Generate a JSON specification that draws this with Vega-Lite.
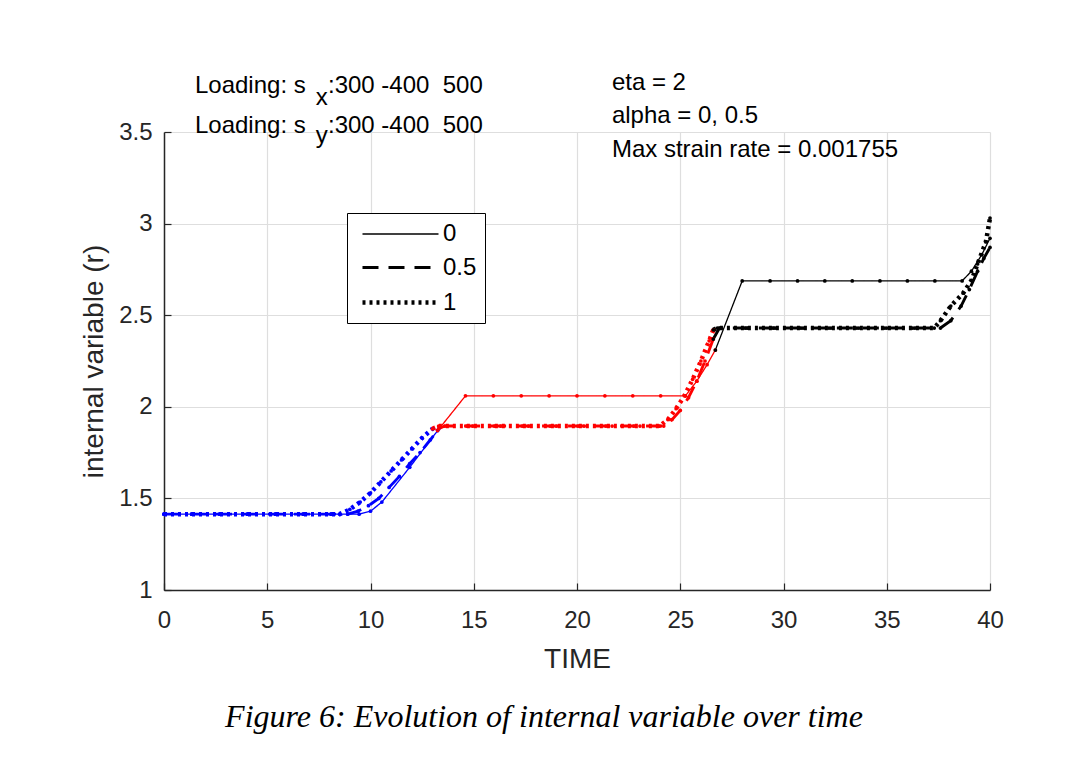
{
  "$schema": "https://vega.github.io/schema/vega-lite/v6.json",
  "width": 826,
  "height": 458,
  "autosize": "none",
  "padding": {"left": 164, "top": 132, "right": 84, "bottom": 181},
  "background": "white",
  "title": {
    "text": "Figure 6: Evolution of internal variable over time",
    "orient": "bottom",
    "anchor": "middle",
    "dx": -33,
    "offset": 29,
    "font": "Liberation Serif",
    "fontStyle": "italic",
    "fontWeight": "normal",
    "fontSize": 32,
    "color": "black"
  },
  "config": {
    "view": {"stroke": null},
    "axis": {
      "labelFont": "Liberation Sans",
      "labelFontSize": 24,
      "labelColor": "#262626",
      "titleFont": "Liberation Sans",
      "titleFontSize": 28,
      "titleFontWeight": "normal",
      "titleColor": "#262626",
      "domainColor": "#262626",
      "domainWidth": 1.5,
      "tickColor": "#262626",
      "tickSize": -7,
      "tickWidth": 1.2,
      "gridColor": "#dedede",
      "gridWidth": 1.2,
      "labelFlush": false
    },
    "legend": {
      "symbolStrokeColor": "black",
      "labelFont": "Liberation Sans",
      "labelFontSize": 24,
      "labelColor": "black"
    }
  },
  "layer": [
    {
      "data": {
        "values": [
          {"t": 0, "r": 1.414, "s": "0", "p": 1}, {"t": 1.35, "r": 1.414, "s": "0", "p": 1}, {"t": 2.7, "r": 1.414, "s": "0", "p": 1}, {"t": 4.05, "r": 1.414, "s": "0", "p": 1}, {"t": 5.4, "r": 1.414, "s": "0", "p": 1}, {"t": 6.75, "r": 1.414, "s": "0", "p": 1}, {"t": 8.1, "r": 1.414, "s": "0", "p": 1}, {"t": 9.45, "r": 1.414, "s": "0", "p": 1}, {"t": 10.0, "r": 1.43, "s": "0", "p": 1}, {"t": 10.55, "r": 1.48, "s": "0", "p": 1}, {"t": 11.9, "r": 1.67, "s": "0", "p": 1}, {"t": 13.25, "r": 1.87, "s": "0", "p": 1},
          {"t": 13.25, "r": 1.87, "s": "0", "p": 2}, {"t": 14.6, "r": 2.06, "s": "0", "p": 2}, {"t": 15.95, "r": 2.06, "s": "0", "p": 2}, {"t": 17.3, "r": 2.06, "s": "0", "p": 2}, {"t": 18.65, "r": 2.06, "s": "0", "p": 2}, {"t": 20.0, "r": 2.06, "s": "0", "p": 2}, {"t": 21.35, "r": 2.06, "s": "0", "p": 2}, {"t": 22.7, "r": 2.06, "s": "0", "p": 2}, {"t": 24.05, "r": 2.06, "s": "0", "p": 2}, {"t": 25.25, "r": 2.06, "s": "0", "p": 2}, {"t": 25.8, "r": 2.14, "s": "0", "p": 2}, {"t": 26.3, "r": 2.23, "s": "0", "p": 2}, {"t": 26.7, "r": 2.31, "s": "0", "p": 2},
          {"t": 26.7, "r": 2.31, "s": "0", "p": 3}, {"t": 28.0, "r": 2.687, "s": "0", "p": 3}, {"t": 29.35, "r": 2.687, "s": "0", "p": 3}, {"t": 30.68, "r": 2.687, "s": "0", "p": 3}, {"t": 32.0, "r": 2.687, "s": "0", "p": 3}, {"t": 33.33, "r": 2.687, "s": "0", "p": 3}, {"t": 34.67, "r": 2.687, "s": "0", "p": 3}, {"t": 36.0, "r": 2.687, "s": "0", "p": 3}, {"t": 37.33, "r": 2.687, "s": "0", "p": 3}, {"t": 38.65, "r": 2.687, "s": "0", "p": 3}, {"t": 39.1, "r": 2.74, "s": "0", "p": 3}, {"t": 39.6, "r": 2.83, "s": "0", "p": 3}, {"t": 40.0, "r": 2.92, "s": "0", "p": 3},

          {"t": 0, "r": 1.414, "s": "0.5", "p": 1}, {"t": 1.35, "r": 1.414, "s": "0.5", "p": 1}, {"t": 2.7, "r": 1.414, "s": "0.5", "p": 1}, {"t": 4.05, "r": 1.414, "s": "0.5", "p": 1}, {"t": 5.4, "r": 1.414, "s": "0.5", "p": 1}, {"t": 6.75, "r": 1.414, "s": "0.5", "p": 1}, {"t": 8.1, "r": 1.414, "s": "0.5", "p": 1}, {"t": 8.9, "r": 1.414, "s": "0.5", "p": 1}, {"t": 9.4, "r": 1.43, "s": "0.5", "p": 1}, {"t": 9.9, "r": 1.46, "s": "0.5", "p": 1}, {"t": 10.4, "r": 1.5, "s": "0.5", "p": 1}, {"t": 10.9, "r": 1.56, "s": "0.5", "p": 1}, {"t": 11.4, "r": 1.62, "s": "0.5", "p": 1}, {"t": 11.9, "r": 1.69, "s": "0.5", "p": 1}, {"t": 12.4, "r": 1.75, "s": "0.5", "p": 1}, {"t": 12.9, "r": 1.82, "s": "0.5", "p": 1}, {"t": 13.3, "r": 1.88, "s": "0.5", "p": 1},
          {"t": 13.3, "r": 1.88, "s": "0.5", "p": 2}, {"t": 13.6, "r": 1.895, "s": "0.5", "p": 2}, {"t": 14.95, "r": 1.895, "s": "0.5", "p": 2}, {"t": 16.3, "r": 1.895, "s": "0.5", "p": 2}, {"t": 17.65, "r": 1.895, "s": "0.5", "p": 2}, {"t": 19.0, "r": 1.895, "s": "0.5", "p": 2}, {"t": 20.35, "r": 1.895, "s": "0.5", "p": 2}, {"t": 21.7, "r": 1.895, "s": "0.5", "p": 2}, {"t": 23.05, "r": 1.895, "s": "0.5", "p": 2}, {"t": 24.2, "r": 1.895, "s": "0.5", "p": 2}, {"t": 24.6, "r": 1.93, "s": "0.5", "p": 2}, {"t": 25.0, "r": 1.98, "s": "0.5", "p": 2}, {"t": 25.4, "r": 2.05, "s": "0.5", "p": 2}, {"t": 25.8, "r": 2.14, "s": "0.5", "p": 2}, {"t": 26.2, "r": 2.25, "s": "0.5", "p": 2}, {"t": 26.6, "r": 2.37, "s": "0.5", "p": 2},
          {"t": 26.6, "r": 2.37, "s": "0.5", "p": 3}, {"t": 26.9, "r": 2.43, "s": "0.5", "p": 3}, {"t": 28.25, "r": 2.43, "s": "0.5", "p": 3}, {"t": 29.6, "r": 2.43, "s": "0.5", "p": 3}, {"t": 30.95, "r": 2.43, "s": "0.5", "p": 3}, {"t": 32.3, "r": 2.43, "s": "0.5", "p": 3}, {"t": 33.65, "r": 2.43, "s": "0.5", "p": 3}, {"t": 35.0, "r": 2.43, "s": "0.5", "p": 3}, {"t": 36.35, "r": 2.43, "s": "0.5", "p": 3}, {"t": 37.6, "r": 2.43, "s": "0.5", "p": 3}, {"t": 38.1, "r": 2.47, "s": "0.5", "p": 3}, {"t": 38.6, "r": 2.55, "s": "0.5", "p": 3}, {"t": 39.0, "r": 2.64, "s": "0.5", "p": 3}, {"t": 39.4, "r": 2.74, "s": "0.5", "p": 3}, {"t": 39.7, "r": 2.81, "s": "0.5", "p": 3}, {"t": 40.0, "r": 2.87, "s": "0.5", "p": 3},

          {"t": 0, "r": 1.414, "s": "1", "p": 1}, {"t": 1.35, "r": 1.414, "s": "1", "p": 1}, {"t": 2.7, "r": 1.414, "s": "1", "p": 1}, {"t": 4.05, "r": 1.414, "s": "1", "p": 1}, {"t": 5.4, "r": 1.414, "s": "1", "p": 1}, {"t": 6.75, "r": 1.414, "s": "1", "p": 1}, {"t": 8.1, "r": 1.414, "s": "1", "p": 1}, {"t": 8.5, "r": 1.414, "s": "1", "p": 1}, {"t": 9.0, "r": 1.44, "s": "1", "p": 1}, {"t": 9.5, "r": 1.48, "s": "1", "p": 1}, {"t": 10.0, "r": 1.53, "s": "1", "p": 1}, {"t": 10.5, "r": 1.59, "s": "1", "p": 1}, {"t": 11.0, "r": 1.65, "s": "1", "p": 1}, {"t": 11.5, "r": 1.71, "s": "1", "p": 1}, {"t": 12.0, "r": 1.77, "s": "1", "p": 1}, {"t": 12.5, "r": 1.83, "s": "1", "p": 1}, {"t": 13.0, "r": 1.88, "s": "1", "p": 1},
          {"t": 13.0, "r": 1.88, "s": "1", "p": 2}, {"t": 13.3, "r": 1.895, "s": "1", "p": 2}, {"t": 14.65, "r": 1.895, "s": "1", "p": 2}, {"t": 16.0, "r": 1.895, "s": "1", "p": 2}, {"t": 17.35, "r": 1.895, "s": "1", "p": 2}, {"t": 18.7, "r": 1.895, "s": "1", "p": 2}, {"t": 20.05, "r": 1.895, "s": "1", "p": 2}, {"t": 21.4, "r": 1.895, "s": "1", "p": 2}, {"t": 22.75, "r": 1.895, "s": "1", "p": 2}, {"t": 24.0, "r": 1.895, "s": "1", "p": 2}, {"t": 24.4, "r": 1.93, "s": "1", "p": 2}, {"t": 24.8, "r": 1.99, "s": "1", "p": 2}, {"t": 25.2, "r": 2.06, "s": "1", "p": 2}, {"t": 25.6, "r": 2.15, "s": "1", "p": 2}, {"t": 26.0, "r": 2.25, "s": "1", "p": 2}, {"t": 26.4, "r": 2.36, "s": "1", "p": 2}, {"t": 26.6, "r": 2.42, "s": "1", "p": 2},
          {"t": 26.6, "r": 2.42, "s": "1", "p": 3}, {"t": 26.8, "r": 2.43, "s": "1", "p": 3}, {"t": 28.15, "r": 2.43, "s": "1", "p": 3}, {"t": 29.5, "r": 2.43, "s": "1", "p": 3}, {"t": 30.85, "r": 2.43, "s": "1", "p": 3}, {"t": 32.2, "r": 2.43, "s": "1", "p": 3}, {"t": 33.55, "r": 2.43, "s": "1", "p": 3}, {"t": 34.9, "r": 2.43, "s": "1", "p": 3}, {"t": 36.25, "r": 2.43, "s": "1", "p": 3}, {"t": 37.3, "r": 2.43, "s": "1", "p": 3}, {"t": 37.6, "r": 2.47, "s": "1", "p": 3}, {"t": 38.1, "r": 2.55, "s": "1", "p": 3}, {"t": 38.7, "r": 2.62, "s": "1", "p": 3}, {"t": 39.1, "r": 2.69, "s": "1", "p": 3}, {"t": 39.4, "r": 2.78, "s": "1", "p": 3}, {"t": 39.8, "r": 2.9, "s": "1", "p": 3}, {"t": 40.0, "r": 3.03, "s": "1", "p": 3}
        ]
      },
      "layer": [
        {
          "mark": {"type": "line"},
          "encoding": {
            "x": {
              "field": "t", "type": "quantitative",
              "scale": {"domain": [0, 40], "nice": false},
              "axis": {"values": [0, 5, 10, 15, 20, 25, 30, 35, 40], "format": "d", "title": "TIME", "grid": true, "labelPadding": 25, "titlePadding": 13}
            },
            "y": {
              "field": "r", "type": "quantitative",
              "scale": {"domain": [1, 3.5], "nice": false, "zero": false},
              "axis": {"values": [1, 1.5, 2, 2.5, 3, 3.5], "format": "~g", "title": "internal variable (r)", "grid": true, "labelPadding": 19, "titlePadding": 10}
            },
            "color": {
              "field": "p", "type": "nominal",
              "scale": {"domain": [1, 2, 3], "range": ["#0000ff", "#ff0000", "#000000"]},
              "legend": null
            },
            "strokeDash": {
              "field": "s", "type": "ordinal",
              "scale": {"domain": ["0", "0.5", "1"], "range": [[1, 0], [16, 10], [3, 4]]},
              "legend": {
                "title": null,
                "orient": "none",
                "legendX": 183,
                "legendY": 81,
                "symbolType": "M-3.167,0H3.167",
                "symbolSize": 576,
                "symbolOffset": 31,
                "labelOffset": 28,
                "strokeColor": "black",
                "fillColor": "white",
                "padding": 8,
                "rowPadding": 8
              }
            },
            "strokeWidth": {
              "field": "s", "type": "ordinal",
              "scale": {"domain": ["0", "0.5", "1"], "range": [1.3, 4.5, 4]},
              "legend": {
                "title": null,
                "orient": "none",
                "legendX": 183,
                "legendY": 81,
                "symbolType": "M-3.167,0H3.167",
                "symbolSize": 576,
                "symbolOffset": 31,
                "labelOffset": 28,
                "strokeColor": "black",
                "fillColor": "white",
                "padding": 8,
                "rowPadding": 8
              }
            }
          }
        },
        {
          "mark": {"type": "point", "filled": true, "opacity": 1, "size": 14},
          "encoding": {
            "x": {"field": "t", "type": "quantitative"},
            "y": {"field": "r", "type": "quantitative"},
            "color": {"field": "p", "type": "nominal", "legend": null}
          }
        }
      ]
    },
    {
      "data": {
        "values": [
          {"t": 1.5, "r": 3.713, "txt": "Loading: s"},
          {"t": 7.94, "r": 3.713, "txt": ":300 -400\u00a0 500"},
          {"t": 1.5, "r": 3.495, "txt": "Loading: s"},
          {"t": 7.94, "r": 3.495, "txt": ":300 -400\u00a0 500"},
          {"t": 7.35, "r": 3.65, "txt": "x"},
          {"t": 7.35, "r": 3.44, "txt": "y"},
          {"t": 21.69, "r": 3.729, "txt": "eta = 2"},
          {"t": 21.69, "r": 3.549, "txt": "alpha = 0, 0.5"},
          {"t": 21.69, "r": 3.364, "txt": "Max strain rate = 0.001755"}
        ]
      },
      "mark": {"type": "text", "align": "left", "baseline": "alphabetic", "font": "Liberation Sans", "fontSize": 24, "color": "black"},
      "encoding": {
        "x": {"field": "t", "type": "quantitative"},
        "y": {"field": "r", "type": "quantitative"},
        "text": {"field": "txt"}
      }
    }
  ]
}
